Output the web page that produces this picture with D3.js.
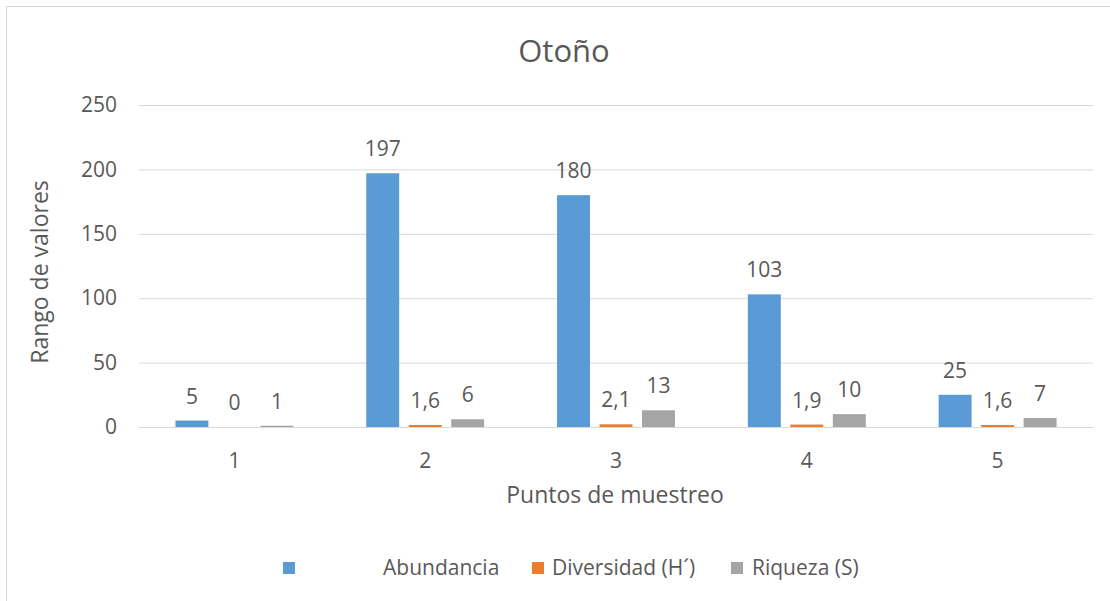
<!DOCTYPE html>
<html>
<head>
<meta charset="utf-8">
<script src="https://cdn.jsdelivr.net/npm/d3@7"></script>
<style>
  body { margin: 0; background: #fff; }
  text { font-family: "Open Sans", sans-serif; fill: #595959; }
</style>
</head>
<body>
<div id="chart"></div>
<script>
// data
var puntos = ['1', '2', '3', '4', '5'];
var series = ['Abundancia', 'Diversidad (H´)', 'Riqueza (S)'];
var abundancia = [5, 197, 180, 103, 25];
var diversidad = [0, 1.6, 2.1, 1.9, 1.6];
var riqueza = [1, 6, 13, 10, 7];
var yTicks = [0, 50, 100, 150, 200, 250];
var colores = ['#5B9BD5', '#ED7D31', '#A5A5A5'];

var W = 1110, H = 601;
var m = {t: 105, r: 17, b: 174, l: 139};
var w = W - m.l - m.r,
    h = H - m.t - m.b;

var svg = d3.select('#chart').append('svg')
    .attr('width', W)
    .attr('height', H);

// outer frame (cropped at right / bottom)
svg.append('rect')
    .attr('x', 6.5).attr('y', 6.5)
    .attr('width', W + 20).attr('height', H + 20)
    .attr('fill', 'none')
    .attr('stroke', '#D9D9D9');

var plot = svg.append('g')
    .attr('transform', 'translate(' + m.l + ',' + m.t + ')');

var rows = puntos.map(function(p, i) {
  return {punto: p, vals: [abundancia[i], diversidad[i], riqueza[i]]};
});

// scales
var scaleX = d3.scaleBand()
    .domain(puntos)
    .range([0, w])
    .paddingInner(0.332)
    .paddingOuter(0.166);
var scaleS = d3.scaleBand()
    .domain(d3.range(series.length))
    .range([0, scaleX.bandwidth()])
    .paddingInner(0.224)
    .paddingOuter(0.112);
var scaleY = d3.scaleLinear()
    .domain([0, 250])
    .range([h, 0]);

var fmt = d3.formatLocale({decimal: ',', thousands: '.', grouping: [3], currency: ['', '']}).format('~g');

// grid + y axis
var axisY = d3.axisLeft(scaleY)
    .tickValues(yTicks)
    .tickSize(-w)
    .tickPadding(22);
var gy = plot.append('g').call(axisY);
gy.select('.domain').remove();
gy.selectAll('line').attr('stroke', '#D9D9D9');
gy.selectAll('text')
    .style('font-size', '21px')
    .attr('fill', '#595959');

// x axis
var axisX = d3.axisBottom(scaleX).tickSize(0).tickPadding(26);
var gx = plot.append('g')
    .attr('transform', 'translate(0,' + h + ')')
    .call(axisX);
gx.select('.domain').attr('stroke', '#D9D9D9');
gx.selectAll('text')
    .style('font-size', '21px')
    .attr('fill', '#595959');

// bars
var grp = plot.selectAll('.grp')
    .data(rows)
    .enter().append('g')
    .attr('class', 'grp')
    .attr('transform', function(d) { return 'translate(' + scaleX(d.punto) + ',0)'; });

grp.selectAll('rect')
    .data(function(d) { return d.vals; })
    .enter().append('rect')
    .attr('x', function(d, i) { return scaleS(i); })
    .attr('width', scaleS.bandwidth())
    .attr('y', function(d) { return scaleY(d); })
    .attr('height', function(d) { return h - scaleY(d); })
    .attr('fill', function(d, i) { return colores[i]; });

grp.selectAll('.lbl')
    .data(function(d) { return d.vals; })
    .enter().append('text')
    .attr('class', 'lbl')
    .attr('x', function(d, i) { return scaleS(i) + scaleS.bandwidth() / 2; })
    .attr('y', function(d) { return scaleY(d) - 17; })
    .attr('text-anchor', 'middle')
    .style('font-size', '21px')
    .attr('fill', '#404040')
    .text(function(d) { return fmt(d); });

// title
svg.append('text')
    .attr('x', 564).attr('y', 62)
    .attr('text-anchor', 'middle')
    .style('font-size', '31px')
    .text('Otoño');

// axis titles
svg.append('text')
    .attr('transform', 'translate(48,272) rotate(-90)')
    .attr('text-anchor', 'middle')
    .style('font-size', '23px')
    .text('Rango de valores');

svg.append('text')
    .attr('x', 615).attr('y', 503)
    .attr('text-anchor', 'middle')
    .style('font-size', '23px')
    .text('Puntos de muestreo');

// legend
var legX = [283, 532, 731];
var legTxt = [383, 552, 752];
var leg = svg.append('g');
series.forEach(function(s, i) {
  leg.append('rect')
      .attr('x', legX[i]).attr('y', 562)
      .attr('width', 12).attr('height', 12)
      .attr('fill', colores[i]);
  leg.append('text')
      .attr('x', legTxt[i]).attr('y', 575)
      .style('font-size', '21px')
      .text(s);
});
</script>
</body>
</html>
